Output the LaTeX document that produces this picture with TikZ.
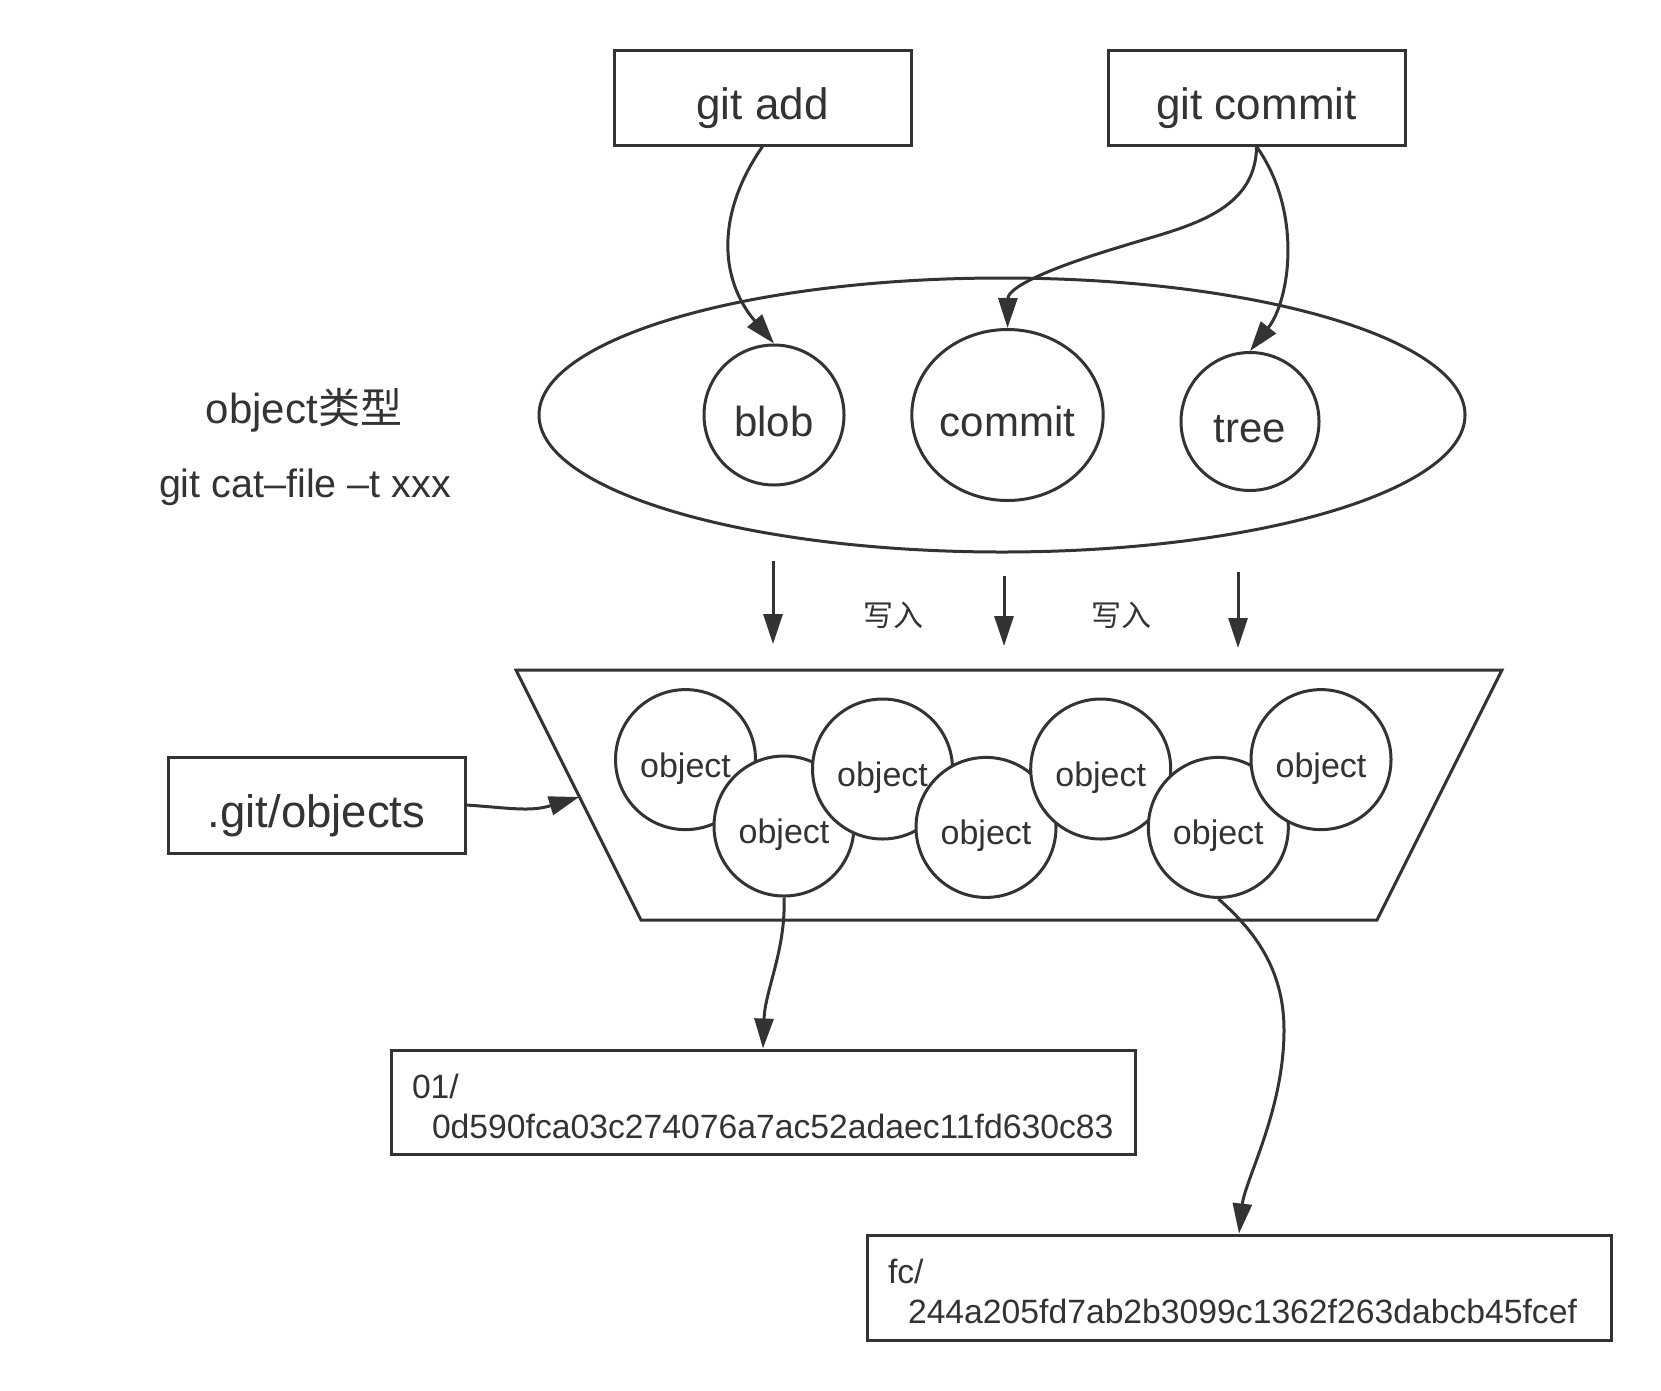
\documentclass[tikz,border=0pt]{standalone}
\usepackage{fontspec}
\setmainfont{Liberation Sans}
\newfontfamily\cjk{Noto Sans CJK SC}
\usetikzlibrary{arrows.meta,shapes.geometric}
\definecolor{ink}{HTML}{333333}
\newcommand{\bigtext}{\fontsize{42}{50}\selectfont}
\newcommand{\boxtext}{\fontsize{44}{52}\selectfont}
\newcommand{\midtext}{\fontsize{39.5}{46}\selectfont}
\newcommand{\smalltext}{\fontsize{34}{40}\selectfont}

\begin{document}
\begin{tikzpicture}[x=1pt,y=-1pt,line width=3pt,color=ink,
  >={Triangle[length=30pt,width=19pt]},
  cmdbox/.style={draw,rectangle,minimum width=297pt,minimum height=95pt,inner sep=0pt,
    font=\boxtext,text height=44pt,text depth=0pt},
  kind/.style={draw,ellipse,inner sep=0pt,font=\bigtext,text height=42pt,text depth=0pt},
  obj/.style={draw,circle,fill=white,minimum size=140pt,inner sep=0pt,
    font=\smalltext,text height=35pt,text depth=0pt},
  hashbox/.style={draw,rectangle,minimum width=744pt,minimum height=104pt,
    text width=702pt,align=left,inner sep=0pt,font=\fontsize{33.7}{40}\selectfont}]

\useasboundingbox (0,0) rectangle (1661,1390);

% commands
\node[cmdbox] (add) at (762.5,97.5) {git add};
\node[cmdbox] (commit) at (1256.5,97.5) {git commit};

% object types
\node[draw,ellipse,minimum width=926pt,minimum height=274pt] (types) at (1002,415) {};
\node[kind,minimum width=140pt,minimum height=140pt] (blob) at (774,415) {blob};
\node[kind,minimum width=182pt,minimum height=171pt] (cobj) at (1007.5,415) {commit};
\node[kind,minimum width=138pt,minimum height=138pt] (tree) at (1250,421.5) {tree};

\node[font=\bigtext] (typelabel) at (304,410) {object{\cjk 类型}};
\node[font=\midtext] (catfile) at (305,487) {git cat--file --t xxx};

\draw[->] (add.south) .. controls (715,215) and (720,280) .. (blob.north);
\draw[->] (commit.south) .. controls (1256,215) and (1180,228) .. (1123,246)
  .. controls (1056,266) and (1008,286) .. (cobj.north);
\draw[->] (commit.south) .. controls (1303,212) and (1290,300) .. (tree.north);

% writing into the store
\coordinate (w1a) at (773,561);
\coordinate (w1b) at (773,644);
\coordinate (w2a) at (1004,576);
\coordinate (w2b) at (1004,646);
\coordinate (w3a) at (1238,572);
\coordinate (w3b) at (1238,648);
\draw[->] (w1a)--(w1b);
\draw[->] (w2a)--(w2b);
\draw[->] (w3a)--(w3b);
\node[font=\fontsize{30}{36}\selectfont\cjk] (write1) at (893,615) {写入};
\node[font=\fontsize{30}{36}\selectfont\cjk] (write2) at (1121,615) {写入};

% object store
\coordinate (tl) at (516,670);
\coordinate (tr) at (1502,670);
\coordinate (br) at (1377,920);
\coordinate (bl) at (641,920);
\coordinate (slot) at (579,797);
\draw (tl)--(tr)--(br)--(bl)--cycle;

\node[obj] (o1) at (685.5,759.6) {object};
\node[obj] (o2) at (784,826) {object};
\node[obj] (o3) at (882.5,769) {object};
\node[obj] (o4) at (986,827.4) {object};
\node[obj] (o5) at (1100.7,769) {object};
\node[obj] (o6) at (1218.3,827.4) {object};
\node[obj] (o7) at (1321,759.6) {object};

\node[cmdbox,minimum height=96pt,font=\fontsize{45.5}{52}\selectfont,text height=45pt] (gitdir) at (316.5,805) {.git/objects};
\draw[->] (gitdir.east) .. controls (510,808) and (530,812) .. (slot);

% files on disk
\node[hashbox] (f01) at (763,1102) {\rule{0pt}{33pt}01/\\\hspace*{20pt}0d590fca03c274076a7ac52adaec11fd630c83};
\node[hashbox,minimum height=105pt] (ffc) at (1239,1287.5) {\rule{0pt}{33pt}fc/\\\hspace*{20pt}244a205fd7ab2b3099c1362f263dabcb45fcef};

\draw[->] (o2.south) .. controls (786,950) and (765,990) .. (f01.north);
\draw[->] (o6.south) .. controls (1260,935) and (1284,975) .. (1284,1030)
  .. controls (1284,1110) and (1245,1180) .. (ffc.north);

\end{tikzpicture}
\end{document}
